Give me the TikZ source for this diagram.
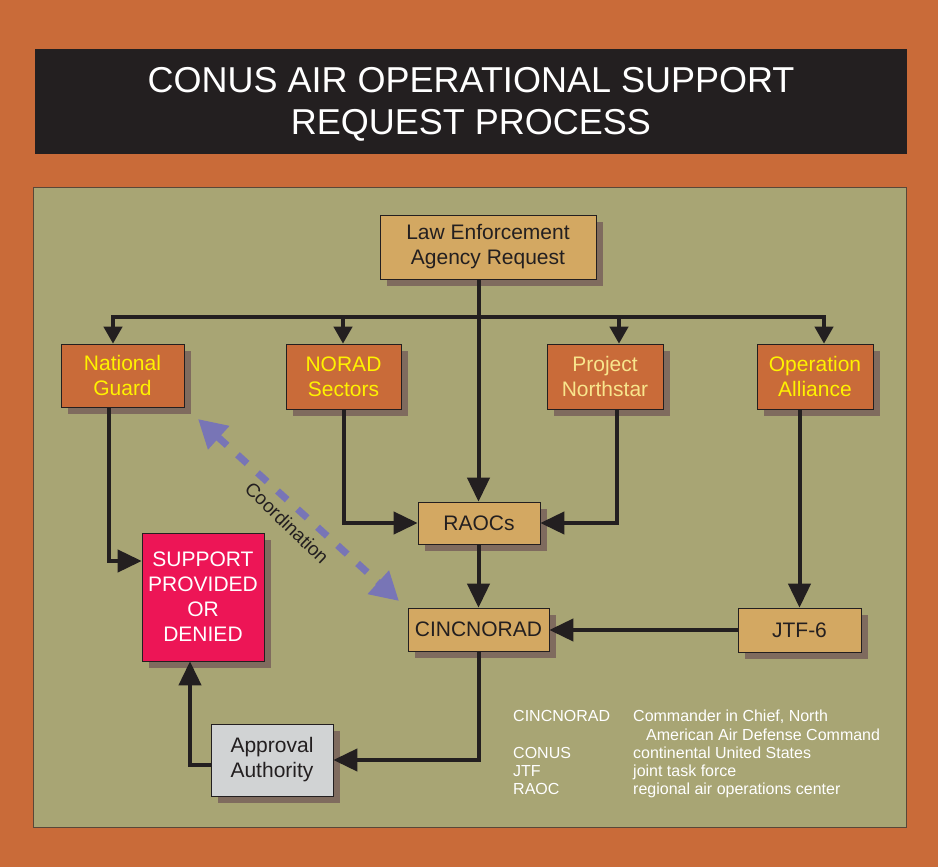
\documentclass[tikz,border=0pt]{standalone}
\usepackage{fontspec}
\setmainfont{Liberation Sans}
\usepackage{xcolor}
\usetikzlibrary{arrows.meta,shadows}
\definecolor{color_fond}{rgb}{0.788,0.420,0.224}
\definecolor{color_noir}{rgb}{0.137,0.122,0.125}
\definecolor{color_olive}{rgb}{0.659,0.647,0.455}
\definecolor{color_tan}{rgb}{0.827,0.659,0.384}
\definecolor{color_jaune}{rgb}{1,0.949,0}
\definecolor{color_pale}{rgb}{0.973,0.898,0.549}
\definecolor{color_ombre}{rgb}{0.498,0.420,0.369}
\definecolor{color_rouge}{rgb}{0.929,0.082,0.337}
\definecolor{color_gris}{rgb}{0.820,0.827,0.831}
\definecolor{color_coord}{rgb}{0.471,0.459,0.714}
\definecolor{color_bord}{rgb}{0.35,0.28,0.22}

\tikzset{
  boite/.style={draw=color_noir, line width=0.6pt, align=center, inner sep=0pt,
    drop shadow={shadow xshift=7pt, shadow yshift=-7pt, fill=color_ombre, opacity=1},
    font=\fontsize{21}{25}\selectfont},
  boite tan/.style={boite, fill=color_tan, text=color_noir},
  boite orange/.style={boite, fill=color_fond, text=color_jaune},
  fleche/.style={color_noir, line width=4pt, -{Triangle[length=24pt,width=22pt]}},
  fleche petite/.style={color_noir, line width=4pt, -{Triangle[length=17pt,width=18pt]}},
  legende/.style={anchor=base west, inner sep=0pt, text=white, font=\fontsize{16}{18}\selectfont}
}

\begin{document}
\begin{tikzpicture}[x=1pt, y=-1pt]
		% Fond orange et cadre du titre
		\fill[color_fond] (0,0) rectangle (938,867);
		\fill[color_noir] (35,49) rectangle (907,154);
		\node[align=center, text=white, font=\fontsize{36}{42}\selectfont] (titre) at (471,104)
		{CONUS AIR OPERATIONAL SUPPORT\\REQUEST PROCESS};
		
		% Panneau olive
		\draw[color_bord, fill=color_olive, line width=1pt] (33,187) rectangle (906,827);
		
		% Demande et organismes
		\node[boite tan, minimum width=216pt, minimum height=64pt] (lea) at (488,247)
		{Law Enforcement\\Agency Request};
		\node[boite orange, minimum width=123pt, minimum height=63pt] (ng) at (122.5,375.5)
		{National\\Guard};
		\node[boite orange, minimum width=115pt, minimum height=65pt] (norad) at (343.5,376.5)
		{NORAD\\Sectors};
		\node[boite orange, text=color_pale, minimum width=116pt, minimum height=65pt] (pns) at (605,376.5)
		{Project\\Northstar};
		\node[boite orange, minimum width=116pt, minimum height=65pt] (oa) at (815,376.5)
		{Operation\\Alliance};
		
		% Centres et decision
		\node[boite tan, minimum width=122pt, minimum height=42pt] (raocs) at (479,523) {RAOCs};
		\node[boite tan, minimum width=141pt, minimum height=43pt] (cinc) at (478.5,629.5) {CINCNORAD};
		\node[boite tan, minimum width=123pt, minimum height=44pt] (jtf) at (799.5,630) {JTF-6};
		\node[boite, fill=color_rouge, text=white, minimum width=122pt, minimum height=128pt] (spd) at (203,597)
		{SUPPORT\\PROVIDED\\OR\\DENIED};
		\node[boite, fill=color_gris, text=color_noir, minimum width=122pt, minimum height=72pt] (appr) at (272,760)
		{Approval\\Authority};
		
		% Repartition de la demande
		\coordinate (b1) at (113,317);
		\coordinate (b2) at (343,317);
		\coordinate (b3) at (619,317);
		\coordinate (b4) at (824,317);
		\draw[color_noir, line width=4pt, line cap=rect] (b1) -- (b4);
		\draw[fleche petite] (b1) -- (b1 |- ng.north);
		\draw[fleche petite] (b2) -- (b2 |- norad.north);
		\draw[fleche petite] (b3) -- (b3 |- pns.north);
		\draw[fleche petite] (b4) -- (b4 |- oa.north);
		\draw[fleche] (lea.south -| cinc) -- (raocs.north -| cinc);
		
		% Liaisons
		\draw[fleche] ([xshift=-14pt]ng.south) |- ([yshift=36pt]spd.west);
		\draw[fleche] (norad.south) |- (raocs.west);
		\draw[fleche] ([xshift=12pt]pns.south) |- (raocs.east);
		\draw[fleche] (raocs.south -| cinc) -- (cinc.north);
		\draw[fleche] (oa.south -| jtf) -- (jtf.north);
		\draw[fleche] (jtf.west) -- (jtf.west -| cinc.east);
		\draw[fleche] (cinc.south) |- (appr.east);
		\draw[fleche] ([yshift=-5pt]appr.west) -| ([xshift=-13pt]spd.south);
		
		% Coordination
		\coordinate (c1) at (198,419);
		\coordinate (c2) at (399,601);
		\draw[color_coord, line width=7pt, dash pattern=on 13pt off 14pt,
		{Triangle[length=28pt,width=30pt]}-{Triangle[length=28pt,width=30pt]}] (c1) -- (c2);
		\node[rotate=-44, text=color_noir, font=\fontsize{19}{22}\selectfont] (coord) at (287,523) {Coordination};
		
		% Legende
		\node[legende] (l1) at (513,721) {CINCNORAD};
		\node[legende] (l1b) at (633,721) {Commander in Chief, North};
		\node[legende] (l1c) at (646,740) {American Air Defense Command};
		\node[legende] (l2) at (513,758) {CONUS};
		\node[legende] (l2b) at (633,758) {continental United States};
		\node[legende] (l3) at (513,776) {JTF};
		\node[legende] (l3b) at (633,776) {joint task force};
		\node[legende] (l4) at (513,794) {RAOC};
		\node[legende] (l4b) at (633,794) {regional air operations center};
	\end{tikzpicture}
\end{document}
